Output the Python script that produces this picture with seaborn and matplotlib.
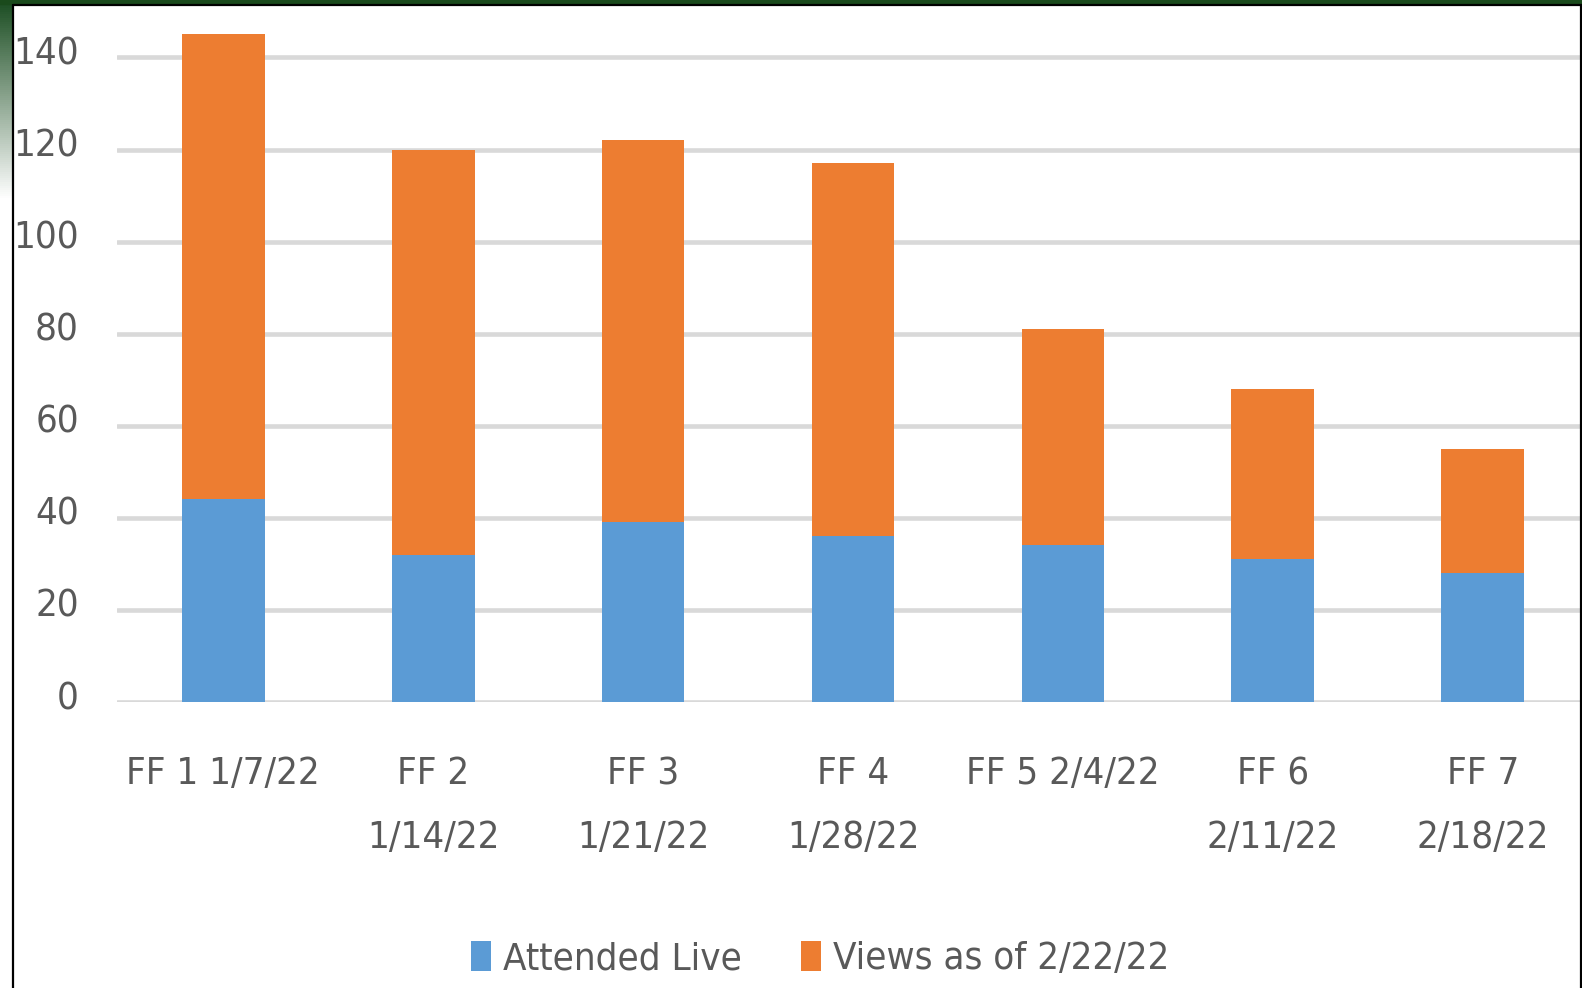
import os
import numpy as np
import matplotlib
matplotlib.use("Agg")
import matplotlib.pyplot as plt
import matplotlib.transforms as mtransforms
from matplotlib import font_manager as fm
from matplotlib.patches import Patch
from matplotlib.colors import LinearSegmentedColormap
import seaborn as sns

# Datos de la gráfica
categorias = ["FF 1 1/7/22", "FF 2\n1/14/22", "FF 3\n1/21/22", "FF 4\n1/28/22",
              "FF 5 2/4/22", "FF 6\n2/11/22", "FF 7\n2/18/22"]
asistentes_directo = [44, 32, 39, 36, 34, 31, 28]
vistas = [101, 88, 83, 81, 47, 37, 27]
series = ["Attended Live", "Views as of 2/22/22"]
y_ticks = [0, 20, 40, 60, 80, 100, 120, 140]

AZUL = "#5B9BD5"
NARANJA = "#ED7D31"
GRIS_TEXTO = "#595959"
GRIS_REJILLA = "#D9D9D9"


def elegir_fuente():
    # Fuente estrecha si existe, si no la de siempre
    preferidas = [("LiberationSansNarrow-Regular.ttf", 32),
                  ("DejaVuSansCondensed.ttf", 27.5)]
    por_archivo = {os.path.basename(f.fname): f.fname for f in fm.fontManager.ttflist}
    for nombre, tam in preferidas:
        if nombre in por_archivo:
            return fm.FontProperties(fname=por_archivo[nombre], size=tam), tam
    return fm.FontProperties(family="DejaVu Sans", size=24), 24


sns.set_theme(style="white")
fuente, tam = elegir_fuente()

W, H = 1582, 988
fig = plt.figure(figsize=(W / 100, H / 100), dpi=100)
fig.patch.set_facecolor("white")

# Ejes en coordenadas de píxel
x0, x1 = 117, 1589
y_cero, y_sup = 702, 11.4
ax = fig.add_axes([x0 / W, 1 - y_cero / H, (x1 - x0) / W, (y_cero - y_sup) / H])

totales = [a + v for a, v in zip(asistentes_directo, vistas)]
sns.barplot(x=categorias, y=totales, color=NARANJA, saturation=1, width=0.395,
            linewidth=0, edgecolor="none", ax=ax, zorder=3)
sns.barplot(x=categorias, y=asistentes_directo, color=AZUL, saturation=1, width=0.395,
            linewidth=0, edgecolor="none", ax=ax, zorder=4)

ax.set_xlim(-0.505, 6.505)
ax.set_ylim(0, 150)
ax.set_yticks(y_ticks)
ax.set_xlabel("")
ax.set_ylabel("")
for s in ax.spines.values():
    s.set_visible(False)
for y in y_ticks:
    ax.axhline(y, color=GRIS_REJILLA, lw=3.3, zorder=1)

ax.tick_params(axis="y", length=0, pad=27.4, colors=GRIS_TEXTO)
ax.tick_params(axis="x", length=0, pad=39, colors=GRIS_TEXTO)
desplaza = mtransforms.ScaledTranslation(0, 7 / 100, fig.dpi_scale_trans)
for lab in ax.get_yticklabels():
    lab.set_fontproperties(fuente)
    lab.set_transform(lab.get_transform() + desplaza)
for lab in ax.get_xticklabels():
    lab.set_fontproperties(fuente)
    lab.set_linespacing(2.0)

# Leyenda
manejadores = [Patch(facecolor=AZUL, edgecolor="none"),
               Patch(facecolor=NARANJA, edgecolor="none")]
leg = fig.legend(manejadores, series, loc="center", bbox_to_anchor=(820 / W, 1 - 959 / H),
                 ncol=2, frameon=False, prop=fuente, handlelength=14.4 / tam,
                 handleheight=23 / tam, handletextpad=8.6 / tam, columnspacing=42.5 / tam,
                 borderpad=0)
for t in leg.get_texts():
    t.set_color(GRIS_TEXTO)

# Marco de la diapositiva
verde = LinearSegmentedColormap.from_list("verde", ["#1B4D22", "#FFFFFF"])
ax_grad = fig.add_axes([0, 1 - 200 / H, 12 / W, 200 / H])
ax_grad.imshow(np.linspace(0, 1, 100).reshape(-1, 1), aspect="auto", cmap=verde)
ax_grad.axis("off")
fig.add_artist(plt.Rectangle((0, 1 - 4 / H), 1, 4 / H, transform=fig.transFigure,
                             color="#1A4A1C", zorder=10))
fig.add_artist(plt.Line2D([13 / W, 13 / W], [0, 1 - 5 / H], transform=fig.transFigure,
                          color="black", lw=1.6, zorder=10))
fig.add_artist(plt.Line2D([13 / W, 1], [1 - 5 / H, 1 - 5 / H], transform=fig.transFigure,
                          color="black", lw=1.6, zorder=10))
fig.add_artist(plt.Line2D([1580.5 / W, 1580.5 / W], [0, 1 - 5 / H], transform=fig.transFigure,
                          color="black", lw=1.6, zorder=10))

fig.savefig("out.png", dpi=100)
